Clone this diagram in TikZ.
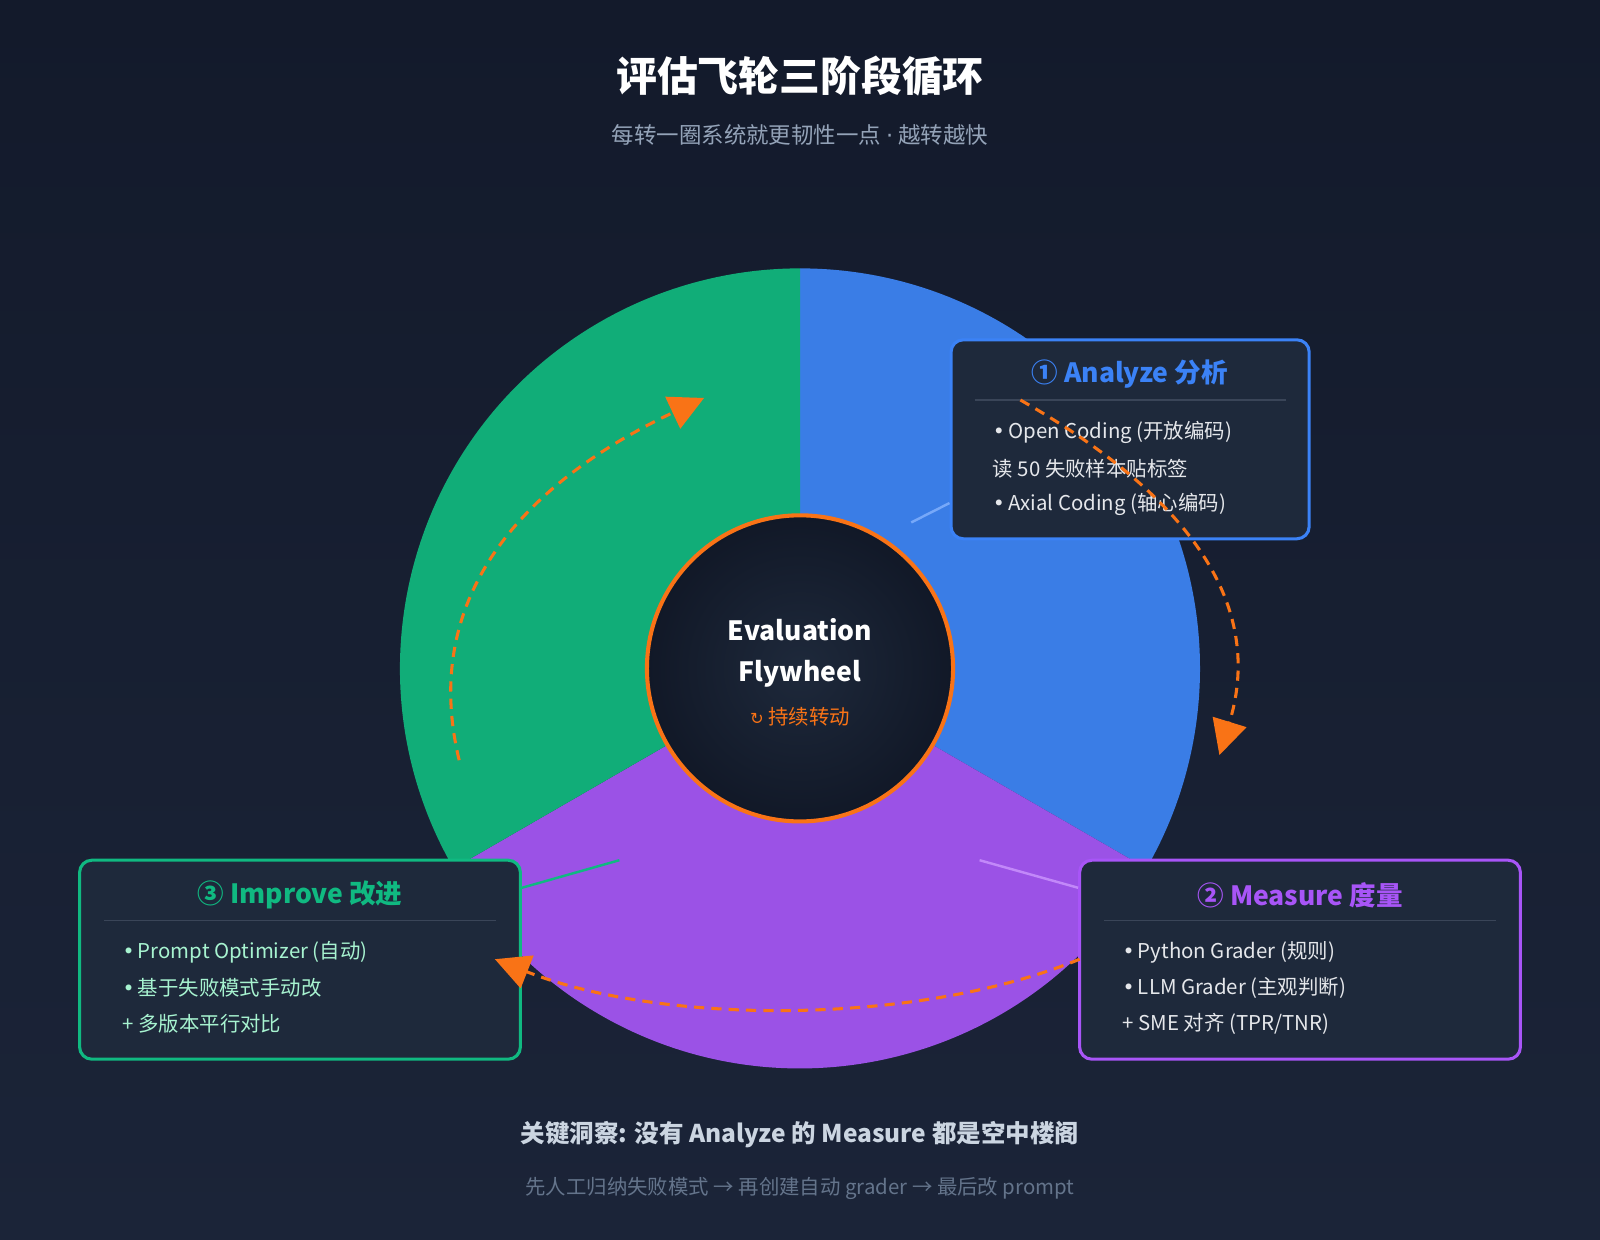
\documentclass[tikz,border=0pt]{standalone}
\usepackage{fontspec}
\setmainfont{Noto Sans CJK SC}
\newfontfamily\djv{DejaVu Sans}
\newcommand{\bul}{{\djv •}\,}
\usetikzlibrary{arrows.meta}
\definecolor{bgA}{HTML}{131A2B}
\definecolor{bgB}{HTML}{1B2438}
\definecolor{secG}{HTML}{11AD78}
\definecolor{secB}{HTML}{3A7DE6}
\definecolor{secP}{HTML}{9B52E6}
\definecolor{boxF}{HTML}{1E293B}
\definecolor{cB}{HTML}{3B82F6}
\definecolor{cG}{HTML}{10B981}
\definecolor{cP}{HTML}{A855F7}
\definecolor{orng}{HTML}{F97316}
\definecolor{sepc}{HTML}{3A4558}
\definecolor{txtL}{HTML}{E5E7EB}
\definecolor{txtG}{HTML}{A7F3D0}
\definecolor{subc}{HTML}{94A3B8}
\definecolor{botc}{HTML}{CBD5E1}
\definecolor{grayc}{HTML}{64748B}
\definecolor{innerF}{HTML}{111827}
\begin{document}
\begin{tikzpicture}[x=0.5pt,y=-0.5pt,
  card/.style={draw,line width=1.5pt,fill=boxF,rounded corners=6pt},
  head/.style={font=\fontsize{13}{15}\selectfont\bfseries},
  item/.style={font=\fontsize{10}{12}\selectfont,anchor=west},
  flow/.style={orng,line width=1.5pt,dash pattern=on 5pt off 3.5pt,-{Triangle[length=17pt,width=17pt]}},
  lead/.style={line width=1.2pt}]
\shade[top color=bgA,bottom color=bgB] (0,0) rectangle (1568,1215);
\useasboundingbox (0,0) rectangle (1568,1215);
\coordinate (c) at (784,655);
\fill[secB] (c) -- ++(-90:392) arc[start angle=-90,end angle=30,radius=392] -- cycle;
\fill[secP] (c) -- ++(30:392) arc[start angle=30,end angle=150,radius=392] -- cycle;
\fill[secG] (c) -- ++(150:392) arc[start angle=150,end angle=270,radius=392] -- cycle;
\node[circle,minimum size=150pt,inner sep=0pt,draw=orng,line width=2pt,inner color=boxF,outer color=innerF] (hub) at (c) {};
\node[text=white,font=\fontsize{13}{15}\selectfont\bfseries] (t1) at (784,617) {Evaluation};
\node[text=white,font=\fontsize{13}{15}\selectfont\bfseries] (t2) at (784,660) {Flywheel};
\node[text=orng,font=\fontsize{10}{12}\selectfont] (t3) at (784,702) {{\djv\fontsize{8}{10}\selectfont ↻} 持续转动};
\node[text=white,font=\fontsize{20}{24}\selectfont\bfseries] (title) at (784,75) {评估飞轮三阶段循环};
\node[text=subc,font=\fontsize{11}{13}\selectfont] (sub) at (784,132) {每转一圈系统就更韧性一点 {\djv ·} 越转越快};
\coordinate (la) at (893,512); \coordinate (li) at (607,843); \coordinate (lm) at (960,843);
\node[card,draw=cB,minimum width=175.5pt,minimum height=97.5pt] (A) at (1107.5,430.5) {};
\node[card,draw=cG,minimum width=216pt,minimum height=97.5pt] (I) at (294,940.5) {};
\node[card,draw=cP,minimum width=216pt,minimum height=97.5pt] (M) at (1274,940.5) {};
\draw[lead,cB!70] (la) -- (A.west |- 0,493);
\draw[lead,cG] (li) -- (I.east |- 0,870);
\draw[lead,cP!70] (lm) -- (M.west |- 0,870);
\node[head,text=cB] (Ah) at (1107,367) {① Analyze 分析};
\draw[sepc,line width=0.8pt] (955,392) -- (1260,392);
\node[item,text=txtL] (A1) at (966,424) {\bul Open Coding (开放编码)};
\node[item,text=txtL] (A2) at (966,459) {读 50 失败样本贴标签};
\node[item,text=txtL] (A3) at (966,494) {\bul Axial Coding (轴心编码)};
\node[head,text=cG] (Ih) at (294,877) {③ Improve 改进};
\draw[sepc,line width=0.8pt] (102,902) -- (486,902);
\node[item,text=txtG] (I1) at (113,933) {\bul Prompt Optimizer (自动)};
\node[item,text=txtG] (I2) at (113,968) {\bul 基于失败模式手动改};
\node[item,text=txtG] (I3) at (113,1003) {+ 多版本平行对比};
\node[head,text=cP] (Mh) at (1274,877) {② Measure 度量};
\draw[sepc,line width=0.8pt] (1082,902) -- (1466,902);
\node[item,text=txtL] (M1) at (1093,933) {\bul Python Grader (规则)};
\node[item,text=txtL] (M2) at (1093,968) {\bul LLM Grader (主观判断)};
\node[item,text=txtL] (M3) at (1093,1003) {+ SME 对齐 (TPR/TNR)};
\coordinate (r0) at (1000,392); \coordinate (r1) at (1195,740);
\coordinate (b0) at (1058,940); \coordinate (b1) at (485,940);
\coordinate (g0) at (450,745); \coordinate (g1) at (690,390);
\draw[flow] (r0) .. controls (1190,500) and (1235,610) .. (r1);
\draw[flow] (b0) .. controls (900,1005) and (650,1005) .. (b1);
\draw[flow] (g0) .. controls (410,580) and (520,470) .. (g1);
\node[text=botc,font=\fontsize{12}{14}\selectfont\bfseries] (k) at (784,1112) {关键洞察: 没有 Analyze 的 Measure 都是空中楼阁};
\node[text=grayc,font=\fontsize{10}{12}\selectfont] (k2) at (784,1165) {先人工归纳失败模式 → 再创建自动 grader → 最后改 prompt};
\end{tikzpicture}
\end{document}
